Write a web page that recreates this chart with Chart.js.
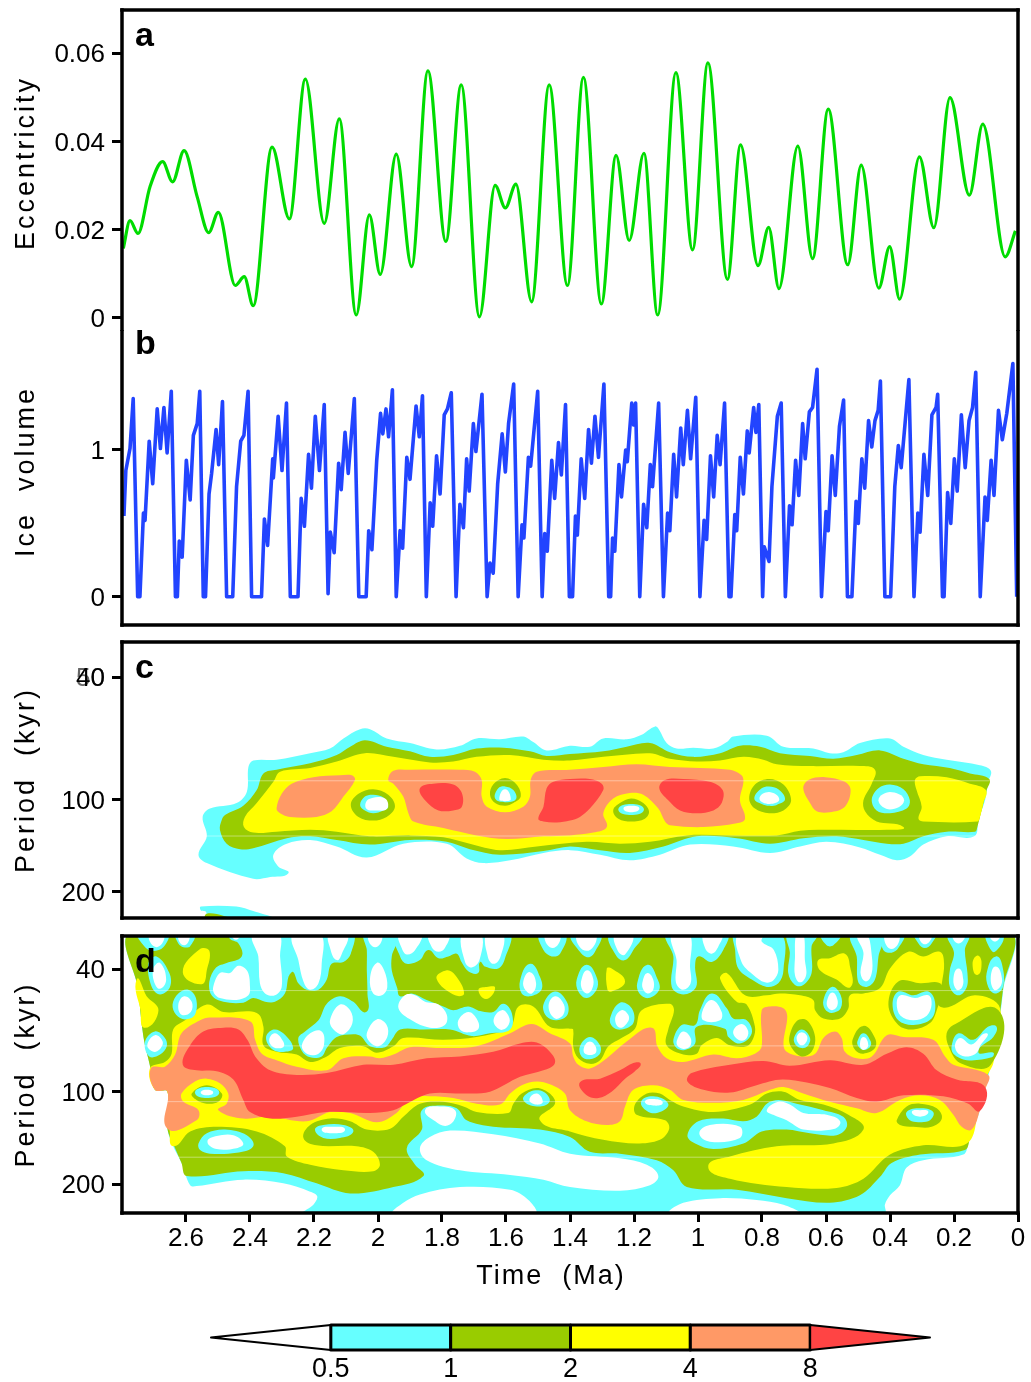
<!DOCTYPE html>
<html>
<head>
<meta charset="utf-8">
<title>Eccentricity and ice volume wavelet spectra</title>
<script src="https://cdn.jsdelivr.net/npm/chart.js@4/dist/chart.umd.min.js"></script>
<style>
  html, body { margin: 0; padding: 0; background: #fff; }
  body { position: relative; width: 1031px; height: 1382px; overflow: hidden; }
  canvas { position: absolute; left: 0; }
</style>
</head>
<body>
<canvas id="panelA" width="1031" height="331" style="top:0"></canvas>
<canvas id="panelB" width="1031" height="300" style="top:330px"></canvas>
<canvas id="panelC" width="1031" height="295" style="top:630px"></canvas>
<canvas id="panelD" width="1031" height="375" style="top:925px"></canvas>
<canvas id="colorBar" width="1031" height="72" style="top:1310px"></canvas>
<script>
// panel a: eccentricity, turning points (time in Ma)
const eccTime = [2.796,2.775,2.75,2.7125,2.673,2.642,2.606,2.565,2.529,2.499,2.446,2.418,2.39,2.331,2.277,2.227,2.168,2.121,2.068,2.027,1.993,1.943,1.895,1.844,1.788,1.74,1.683,1.634,1.602,1.569,1.52,1.465,1.408,1.358,1.302,1.256,1.215,1.169,1.126,1.069,1.017,0.969,0.908,0.867,0.8125,0.779,0.747,0.688,0.642,0.593,0.532,0.49,0.435,0.401,0.37,0.308,0.263,0.2125,0.152,0.11,0.04,0.008];
const eccValue = [0.0157,0.022,0.0191,0.0297,0.0354,0.0308,0.0379,0.0274,0.0193,0.0239,0.0073,0.0093,0.0027,0.0387,0.0224,0.0541,0.0214,0.0451,0.0006,0.0233,0.0098,0.0371,0.0116,0.056,0.0173,0.0528,0.0002,0.03,0.0249,0.0303,0.0036,0.0528,0.0073,0.0545,0.0031,0.0368,0.0175,0.0373,0.0006,0.0556,0.0154,0.0578,0.0087,0.0392,0.0118,0.0205,0.0066,0.0389,0.0134,0.0473,0.012,0.0346,0.0067,0.0161,0.0042,0.0365,0.0204,0.0499,0.0278,0.0439,0.0138,0.0197];

// panel b: ice volume
const iceTime = [2.794,2.788,2.775,2.765,2.756,2.751,2.744,2.733,2.728,2.715,2.704,2.69,2.68,2.669,2.659,2.646,2.633,2.627,2.621,2.612,2.599,2.587,2.577,2.565,2.557,2.546,2.539,2.528,2.52,2.506,2.498,2.486,2.473,2.454,2.442,2.429,2.419,2.406,2.395,2.364,2.355,2.345,2.329,2.327,2.312,2.3,2.286,2.274,2.25,2.24,2.23,2.217,2.208,2.196,2.183,2.168,2.156,2.149,2.137,2.123,2.115,2.103,2.093,2.074,2.06,2.037,2.029,2.019,2.004,1.992,1.985,1.975,1.967,1.955,1.943,1.931,1.923,1.91,1.9,1.881,1.871,1.861,1.849,1.837,1.829,1.817,1.806,1.793,1.783,1.771,1.756,1.744,1.733,1.723,1.715,1.702,1.694,1.675,1.659,1.65,1.64,1.626,1.612,1.602,1.592,1.576,1.562,1.55,1.544,1.53,1.523,1.501,1.487,1.479,1.471,1.457,1.448,1.436,1.427,1.414,1.402,1.392,1.383,1.377,1.365,1.354,1.342,1.333,1.322,1.311,1.294,1.279,1.273,1.267,1.26,1.247,1.239,1.226,1.221,1.207,1.201,1.195,1.182,1.17,1.16,1.149,1.142,1.123,1.108,1.095,1.088,1.076,1.067,1.054,1.046,1.033,1.023,1.007,0.994,0.981,0.973,0.961,0.951,0.94,0.931,0.917,0.903,0.897,0.885,0.879,0.868,0.858,0.846,0.84,0.826,0.819,0.81,0.798,0.793,0.778,0.769,0.752,0.74,0.727,0.714,0.706,0.695,0.685,0.673,0.665,0.652,0.642,0.628,0.614,0.6,0.593,0.581,0.571,0.558,0.545,0.533,0.519,0.506,0.499,0.488,0.479,0.467,0.457,0.447,0.437,0.43,0.416,0.398,0.385,0.374,0.365,0.353,0.341,0.325,0.313,0.306,0.294,0.282,0.269,0.256,0.251,0.236,0.231,0.22,0.21,0.199,0.19,0.177,0.165,0.153,0.142,0.132,0.118,0.103,0.096,0.084,0.075,0.061,0.049,0.035,0.016,0.004];
const iceValue = [0.55,0.86,1.01,1.35,0.48,0,0,0.57,0.52,1.06,0.77,1.28,1.01,1.29,0.98,1.4,0,0,0.38,0.27,0.93,0.66,1.1,1.18,1.4,0,0,0.7,0.84,1.14,0.9,1.33,0,0,0.75,1.06,1.1,1.4,0,0,0.53,0.35,0.94,0.81,1.23,0.86,1.32,0,0,0.67,0.48,0.97,0.74,1.23,0.86,1.31,0.02,0.44,0.3,0.91,0.73,1.12,0.84,1.35,0,0,0.45,0.32,0.93,1.25,1.11,1.28,1.09,1.41,0,0.45,0.33,0.95,0.8,1.3,1.09,1.37,0,0.64,0.48,0.96,0.7,1.24,1.28,1.39,0,0.63,0.47,0.94,0.72,1.18,0.99,1.38,0,0.23,0.16,0.77,1.11,0.85,1.18,1.45,0,0.49,0.4,0.95,0.89,1.4,0,0.43,0.31,0.93,0.67,1.05,0.83,1.31,0,0,0.55,0.42,0.94,0.67,1.14,0.91,1.23,0.95,1.45,0,0,0.4,0.31,0.9,0.68,1,0.92,1.32,1.17,1.32,0,0.63,0.47,0.9,0.75,1.32,0,0.57,0.45,0.97,0.68,1.15,0.9,1.27,0.94,1.36,0,0.52,0.39,0.96,0.68,1.1,0.9,1.32,0,0,0.56,0.45,0.95,0.7,1.13,0.98,1.29,1.12,1.31,0,0.34,0.24,0.75,1.23,1.32,0,0.62,0.49,0.93,0.69,1.18,0.94,1.26,1.29,1.55,0,0.58,0.45,0.96,0.69,1.16,1.34,0,0,0.65,0.5,0.94,0.74,1.2,1.02,1.2,1.27,1.47,0,0,0.75,1.03,0.88,1.18,1.48,0,0.57,0.44,0.97,0.69,1.24,1.29,1.38,0,0,0.71,0.5,0.94,0.72,1.24,0.88,1.2,1.29,1.53,0,0.68,0.52,0.93,0.69,1.27,1.07,1.25,1.59,0];

// contour shapes: [level, [time Ma, log2(period / 100 kyr), ...]], painted in order
// levels: 0 below 0.5, 1 = 0.5-1, 2 = 1-2, 3 = 2-4, 4 = 4-8, 5 = above 8
const cOuter = [
  [1,[2.548,.19,2.525,.10,2.442,.04,2.410,-.08,2.405,-.35,2.390,-.42,2.317,-.43,2.212,-.50,2.150,-.55,2.108,-.66,2.056,-.76,2.025,-.76,1.973,-.66,1.900,-.61,1.817,-.54,1.744,-.58,1.692,-.66,1.619,-.65,1.546,-.68,1.515,-.62,1.473,-.53,1.400,-.58,1.338,-.57,1.296,-.66,1.223,-.65,1.176,-.70,1.134,-.79,1.121,-.75,1.098,-.61,1.067,-.55,1.015,-.56,.952,-.55,.910,-.62,.890,-.68,.785,-.69,.733,-.57,.640,-.55,.588,-.50,.546,-.51,.494,-.61,.400,-.66,.358,-.57,.296,-.48,.223,-.43,.119,-.37,.085,-.31,.093,-.19,.103,.01,.124,.22,.137,.40,.223,.40,.296,.49,.338,.62,.379,.66,.431,.60,.494,.52,.598,.46,.681,.51,.775,.58,.890,.51,1.025,.49,1.119,.60,1.213,.66,1.306,.60,1.400,.55,1.483,.58,1.587,.66,1.671,.69,1.723,.64,1.785,.48,1.921,.48,2.035,.63,2.129,.51,2.212,.44,2.285,.48,2.327,.60,2.311,.73,2.280,.80,2.337,.84,2.390,.86,2.535,.69,2.561,.60,2.535,.40]],
  [1,[2.554,1.16,2.554,1.20,2.537,1.22,2.537,1.30,2.327,1.30,2.390,1.21,2.442,1.16]],
  [2,[2.537,1.24,2.537,1.31,2.452,1.31,2.484,1.26]],
  [2,[2.488,.22,2.478,.17,2.421,.07,2.379,-.10,2.358,-.28,2.317,-.32,2.212,-.39,2.129,-.48,2.087,-.57,2.041,-.64,1.973,-.57,1.900,-.52,1.838,-.46,1.765,-.48,1.692,-.55,1.608,-.56,1.525,-.52,1.473,-.47,1.400,-.49,1.296,-.52,1.223,-.57,1.150,-.61,1.088,-.51,1.015,-.46,.931,-.50,.869,-.58,.806,-.57,.744,-.50,.650,-.47,.577,-.44,.504,-.48,.431,-.53,.358,-.44,.296,-.38,.213,-.34,.150,-.28,.090,-.22,.098,-.10,.114,.12,.127,.30,.134,.35,.223,.35,.296,.40,.358,.48,.410,.48,.483,.44,.567,.40,.671,.42,.775,.48,.879,.42,1.004,.40,1.108,.51,1.213,.58,1.306,.55,1.400,.51,1.483,.56,1.619,.60,1.713,.54,1.785,.46,1.900,.44,2.025,.49,2.129,.44,2.212,.40,2.285,.42,2.390,.53,2.431,.54,2.473,.48,2.494,.33]],
  [3,[2.419,.30,2.416,.19,2.379,.04,2.327,-.19,2.306,-.30,2.212,-.34,2.129,-.41,2.041,-.50,1.952,-.46,1.838,-.40,1.765,-.41,1.692,-.46,1.588,-.48,1.483,-.43,1.400,-.42,1.296,-.46,1.150,-.50,1.088,-.44,1.004,-.41,.931,-.42,.858,-.46,.796,-.43,.754,-.38,.650,-.36,.494,-.36,.447,-.32,.457,-.17,.483,.01,.478,.13,.442,.24,.358,.30,.410,.33,.567,.33,.681,.34,.754,.39,.900,.39,1.035,.39,1.150,.46,1.244,.48,1.348,.46,1.504,.51,1.619,.55,1.713,.48,1.796,.41,1.900,.39,2.025,.40,2.129,.35,2.212,.33,2.317,.35,2.390,.36]],
  [3,[.322,-.21,.306,-.25,.223,-.24,.150,-.17,.100,-.10,.108,.04,.119,.19,.127,.24,.296,.24,.311,.21,.301,.08,.317,-.10]]
];
const cInner = [
  [4,[2.317,.10,2.301,-.06,2.270,-.17,2.202,-.24,2.119,-.26,2.082,-.26,2.072,-.21,2.108,-.03,2.145,.13,2.192,.19,2.275,.19,2.306,.15]],
  [4,[1.968,-.21,1.952,-.31,1.900,-.32,1.744,-.32,1.697,-.30,1.676,-.21,1.676,-.03,1.660,.08,1.603,.14,1.546,.08,1.525,-.03,1.523,-.21,1.504,-.30,1.400,-.32,1.296,-.35,1.192,-.38,1.088,-.35,.900,-.32,.864,-.26,.858,-.19,.869,.01,.853,.21,.879,.26,.983,.30,1.088,.28,1.103,.24,1.124,.10,1.171,-.05,1.213,-.07,1.265,-.01,1.296,.15,1.285,.30,1.327,.36,1.400,.39,1.483,.40,1.598,.43,1.692,.39,1.796,.31,1.889,.24,1.905,.15,1.921,-.03,1.952,-.17]],
  [4,[.671,-.12,.655,-.21,.603,-.24,.541,-.19,.523,-.10,.541,.08,.588,.14,.629,.13,.650,.04]],
  [5,[1.869,-.12,1.827,-.17,1.765,-.16,1.738,-.07,1.738,.08,1.765,.12,1.811,.12,1.853,.01]],
  [5,[1.499,.21,1.483,.08,1.473,-.12,1.452,-.19,1.400,-.22,1.338,-.22,1.301,-.17,1.296,-.10,1.338,.10,1.369,.19,1.400,.23,1.441,.25,1.483,.24]],
  [5,[1.121,-.12,1.103,-.21,1.046,-.22,.963,-.19,.923,-.10,.926,.04,.952,.12,1.004,.15,1.056,.12,1.093,.01]],
  [2,[2.085,.06,2.061,-.06,2.015,-.11,1.968,-.05,1.947,.08,1.973,.19,2.015,.23,2.061,.19]],
  [1,[2.056,.06,2.041,-.03,2.015,-.05,1.983,-.02,1.968,.08,1.983,.12,2.015,.15,2.041,.12]],
  [0,[2.037,.10,2.030,0,1.978,-.01,1.971,.10,2.004,.12]],
  [2,[1.650,-.05,1.640,-.16,1.603,-.23,1.567,-.16,1.554,-.03,1.577,.04,1.603,.07,1.634,.04]],
  [1,[1.634,-.01,1.624,-.12,1.603,-.14,1.577,-.10,1.569,0,1.603,.03]],
  [0,[1.621,0,1.603,-.11,1.585,0,1.603,.02]],
  [2,[1.265,.12,1.244,.04,1.209,-.01,1.171,.04,1.153,.13,1.166,.21,1.209,.24,1.249,.21]],
  [1,[1.249,.11,1.209,.05,1.169,.11,1.209,.17]],
  [0,[1.233,.10,1.209,.07,1.183,.10,1.209,.14]],
  [2,[.840,-.01,.822,-.16,.778,-.22,.733,-.16,.709,.01,.733,.12,.778,.15,.822,.10]],
  [1,[.824,-.01,.801,-.12,.778,-.14,.749,-.11,.728,0,.754,.06,.778,.07,.801,.05]],
  [0,[.808,-.01,.778,-.08,.746,0,.778,.05]],
  [1,[.457,0,.436,-.12,.400,-.16,.358,-.11,.338,.01,.348,.10,.400,.15,.442,.12]],
  [0,[.436,.01,.400,-.08,.356,.01,.400,.11]]
];

const dBase = [
  [1,[2.767,-1.71,2.749,-1.10,2.733,-.59,2.712,-.27,2.697,-.02,2.658,0,2.658,.40,2.640,.59,2.614,.77,2.587,1.01,2.567,1.02,2.421,.95,2.296,.99,2.212,1.08,2.190,1.13,2.202,1.22,2.233,1.31,.416,1.31,.416,1.22,.400,1.12,.369,1.01,.348,.82,.296,.74,.171,.68,.155,.56,.140,.40,.119,.20,.098,-.09,.077,-.41,.061,-.70,.046,-1.10,.030,-1.71]],
  [0,[1.952,1.31,1.921,1.20,1.869,1.11,1.744,1.03,1.587,1.06,1.530,1.17,1.509,1.31]],
  [0,[1.088,1.31,1.046,1.20,.931,1.15,.817,1.17,.733,1.22,.686,1.31]],
  [0,[1.869,.61,1.838,.49,1.775,.42,1.640,.46,1.494,.56,1.400,.67,1.244,.72,1.160,.79,1.124,.91,1.150,1.01,1.244,1.07,1.400,1.03,1.483,.95,1.587,.90,1.744,.85,1.848,.74]],
  [2,[2.767,-1.71,2.749,-1.10,2.733,-.59,2.712,-.27,2.697,-.02,2.658,0,2.658,.40,2.634,.61,2.614,.77,2.598,.91,2.421,.86,2.296,.88,2.192,.99,2.087,1.10,1.952,1.03,1.858,.91,1.884,.79,1.910,.61,1.863,.41,1.863,.20,1.806,.15,1.754,.18,1.723,.31,1.640,.38,1.494,.41,1.400,.49,1.338,.65,1.244,.67,1.129,.74,1.077,.85,1.035,1.03,.879,1.06,.723,1.15,.588,1.20,.494,1.12,.431,.92,.395,.77,.306,.68,.166,.63,.150,.49,.124,.20,.098,-.13,.077,-.45,.061,-.74,.046,-1.13,.030,-1.71]],
  [0,[1.853,.20,1.806,.16,1.759,.20,1.764,.32,1.790,.37,1.821,.32]]
];
const dYellow = [
  [3,[2.713,-.25,2.666,-.32,2.645,-.41,2.640,-.67,2.603,-.77,2.535,-.94,2.483,-.86,2.379,-.85,2.358,-.70,2.358,-.50,2.317,-.43,2.254,-.40,2.212,-.32,2.160,-.38,2.119,-.47,2.046,-.49,2.004,-.42,1.952,-.49,1.921,-.58,1.796,-.56,1.692,-.59,1.587,-.70,1.561,-.92,1.515,-.92,1.463,-.70,1.400,-.68,1.390,-.67,1.390,-.49,1.374,-.36,1.338,-.30,1.306,-.34,1.280,-.49,1.239,-.58,1.197,-.68,1.176,-.88,1.088,-.95,1.075,-.88,1.093,-.67,1.098,-.50,1.046,-.40,1.004,-.41,.989,-.50,.942,-.58,.900,-.50,.848,-.49,.827,-.58,.822,-.70,.848,-.94,.879,-.97,.931,-1.22,.910,-1.28,.853,-1.04,.785,-1.04,.744,-1.06,.681,-1.04,.640,-.99,.634,-.88,.608,-.79,.556,-.79,.530,-.90,.525,-1.04,.483,-1.06,.431,-1.12,.400,-1.33,.343,-1.51,.296,-1.46,.244,-1.51,.231,-1.38,.238,-1.17,.249,-.94,.218,-.91,.134,-1.04,.056,-.90,.077,-.31,.098,-.16,.124,.20,.160,.56,.296,.58,.400,.68,.483,.94,.567,1.04,.723,1.03,.900,.94,.968,.81,.900,.70,.754,.59,.577,.56,.483,.41,.530,.25,.608,.14,.681,.09,.733,0,.785,.02,.837,.14,.952,.22,1.046,.16,1.088,.09,1.119,.02,1.160,.02,1.197,.14,1.192,.25,1.103,.31,1.090,.40,1.119,.52,1.192,.56,1.296,.52,1.400,.43,1.494,.31,1.447,.13,1.463,.02,1.504,-.04,1.551,.02,1.577,.13,1.593,.23,1.692,.22,1.733,.16,1.796,.11,1.869,.13,1.921,.27,1.962,.40,2.035,.41,2.087,.32,2.150,.29,2.212,.36,2.233,.50,2.192,.58,2.067,.59,2.015,.65,1.994,.79,2.015,.86,2.108,.85,2.212,.79,2.285,.70,2.291,.59,2.379,.43,2.504,.38,2.587,.43,2.640,.59,2.652,.41,2.658,.40,2.658,0,2.697,-.02]],
  [3,[2.610,-1.29,2.556,-1.54,2.527,-1.52,2.535,-1.31,2.551,-1.16]],
  [3,[2.754,-1.21,2.723,-1.03,2.686,-.88,2.728,-.69,2.742,-.88]],
  [3,[1.817,-1.22,1.785,-1.31,1.759,-1.26,1.731,-1.06,1.759,-1.04]],
  [3,[1.686,-1.10,1.660,-1.13,1.634,-1.12,1.662,-1.00]],
  [3,[1.285,-1.33,1.270,-1.33,1.228,-1.19,1.270,-1.08,1.283,-1.10]],
  [3,[.142,-1.38,.127,-1.47,.114,-1.40,.127,-1.26]],
  [3,[.624,-1.42,.588,-1.44,.541,-1.49,.525,-1.35,.523,-1.13,.567,-1.21,.619,-1.31]],
  [2,[.405,-.94,.374,-1.19,.306,-1.17,.238,-1.15,.254,-.88,.275,-.74,.327,-.67,.374,-.72]],
  [2,[.223,-.63,.202,-.72,.061,-.88,.085,-.29,.181,-.31,.217,-.49]]
];
const dTopHoles = [
  [1,[2.463,-1.71,2.082,-1.71,2.085,-1.49,2.108,-1.40,2.145,-1.38,2.160,-1.21,2.186,-1.10,2.223,-1.10,2.249,-1.17,2.270,-1.29,2.291,-1.06,2.322,-.97,2.353,-.97,2.390,-1.01,2.421,-.96,2.483,-.97,2.520,-1.04,2.527,-1.19,2.506,-1.34,2.473,-1.39,2.426,-1.46,2.436,-1.60,2.463,-1.65]],
  [0,[2.390,-1.71,2.311,-1.71,2.306,-1.46,2.301,-1.13,2.322,-1.04,2.353,-1.06,2.369,-1.17,2.374,-1.46]],
  [0,[2.265,-1.71,2.181,-1.71,2.176,-1.38,2.186,-1.17,2.212,-1.10,2.233,-1.19,2.249,-1.42]],
  [0,[2.152,-1.71,2.096,-1.71,2.113,-1.49,2.129,-1.42,2.148,-1.53]],
  [0,[2.515,-1.13,2.494,-1.28,2.463,-1.28,2.436,-1.36,2.408,-1.30,2.400,-1.13,2.405,-1.04,2.442,-.99,2.494,-1.01,2.512,-1.06]],
  [0,[2.457,-1.70,2.431,-1.70,2.444,-1.64]],
  [1,[2.749,-1.71,2.658,-1.71,2.671,-1.56,2.707,-1.52,2.733,-1.58]],
  [0,[2.715,-1.71,2.669,-1.71,2.692,-1.56]],
  [1,[2.718,-1.38,2.692,-1.46,2.652,-1.28,2.650,-1.13,2.681,-1.05,2.707,-1.13]],
  [0,[2.702,-1.33,2.681,-1.39,2.662,-1.21,2.681,-1.11,2.700,-1.19]],
  [1,[2.631,-1.71,2.575,-1.71,2.587,-1.57,2.608,-1.56,2.624,-1.60]],
  [0,[2.624,-1.71,2.590,-1.71,2.606,-1.58]],
  [1,[2.642,-.94,2.624,-1.06,2.593,-1.10,2.569,-1.01,2.572,-.83,2.603,-.78,2.631,-.83]],
  [0,[2.624,-.94,2.606,-1.03,2.582,-.97,2.585,-.86,2.614,-.83]],
  [1,[2.728,-.54,2.697,-.65,2.666,-.58,2.660,-.49,2.681,-.40,2.715,-.38]],
  [0,[2.721,-.50,2.697,-.61,2.673,-.54,2.681,-.46,2.702,-.43]],
  [1,[2.041,-1.71,1.942,-1.71,1.957,-1.46,1.957,-1.31,1.940,-1.12,1.931,-1.03,1.895,-1.06,1.848,-.99,1.796,-.92,1.765,-.88,1.718,-.92,1.681,-.87,1.640,-.86,1.608,-.95,1.582,-.85,1.587,-.67,1.650,-.63,1.707,-.60,1.775,-.67,1.858,-.67,1.931,-.67,1.957,-.56,1.978,-.48,2.025,-.49,2.054,-.60,2.077,-.62,2.129,-.59,2.160,-.47,2.176,-.38,2.212,-.37,2.238,-.44,2.249,-.58,2.228,-.65,2.186,-.77,2.160,-.95,2.119,-1.03,2.077,-.97,2.037,-.86,2.033,-1.06,2.035,-1.31,2.035,-1.53]],
  [0,[2.025,-1.22,2.004,-1.39,1.981,-1.31,1.971,-1.13,1.988,-1.04,2.015,-1.06]],
  [0,[2.030,-1.71,1.988,-1.71,2.009,-1.56]],
  [0,[2.150,-.77,2.119,-.94,2.087,-.88,2.080,-.74,2.108,-.62,2.139,-.67]],
  [0,[2.238,-.49,2.212,-.63,2.176,-.65,2.169,-.50,2.186,-.41,2.217,-.40]],
  [0,[2.035,-.63,2.004,-.78,1.973,-.72,1.971,-.59,1.999,-.49,2.027,-.54]],
  [0,[1.936,-.90,1.916,-1.04,1.884,-1.04,1.853,-.97,1.811,-.94,1.785,-.83,1.791,-.72,1.838,-.69,1.895,-.77]],
  [0,[1.749,-.77,1.718,-.86,1.692,-.79,1.686,-.68,1.718,-.64,1.744,-.67]],
  [0,[1.639,-.77,1.613,-.88,1.589,-.79,1.596,-.70,1.619,-.67]],
  [1,[2.350,-.58,2.327,-.67,2.296,-.63,2.265,-.47,2.291,-.43,2.327,-.45]],
  [0,[2.340,-.56,2.322,-.63,2.296,-.54,2.296,-.48,2.327,-.48]],
  [1,[1.944,-1.71,1.593,-1.71,1.603,-1.44,1.624,-1.33,1.666,-1.35,1.681,-1.40,1.687,-1.28,1.718,-1.30,1.739,-1.40,1.754,-1.49,1.780,-1.46,1.811,-1.44,1.843,-1.53,1.869,-1.42,1.910,-1.38,1.931,-1.46]],
  [0,[1.933,-1.71,1.866,-1.71,1.884,-1.53,1.910,-1.48,1.926,-1.55]],
  [0,[1.840,-1.71,1.780,-1.71,1.791,-1.55,1.811,-1.51,1.832,-1.56]],
  [0,[1.736,-1.71,1.679,-1.71,1.683,-1.42,1.707,-1.34,1.728,-1.40]],
  [0,[1.660,-1.71,1.610,-1.71,1.617,-1.46,1.639,-1.38,1.657,-1.46]],
  [1,[1.556,-1.20,1.525,-1.38,1.494,-1.24,1.489,-1.10,1.525,-1.03,1.551,-1.06]],
  [0,[1.546,-1.19,1.525,-1.29,1.506,-1.17,1.519,-1.06,1.540,-1.10]],
  [1,[1.483,-.94,1.447,-1.08,1.410,-.97,1.408,-.83,1.441,-.77,1.473,-.81]],
  [0,[1.467,-.92,1.447,-1.03,1.419,-.94,1.421,-.83,1.447,-.79]],
  [1,[1.494,-1.71,1.416,-1.71,1.431,-1.49,1.457,-1.46,1.483,-1.53]],
  [0,[1.478,-1.71,1.431,-1.71,1.454,-1.55]],
  [1,[1.395,-1.71,1.306,-1.71,1.322,-1.51,1.343,-1.45,1.369,-1.51]],
  [0,[1.379,-1.71,1.319,-1.71,1.348,-1.52]],
  [1,[1.379,-1.21,1.348,-1.37,1.315,-1.22,1.317,-1.10,1.348,-1.01,1.374,-1.08]],
  [0,[1.364,-1.21,1.346,-1.31,1.327,-1.21,1.332,-1.10,1.348,-1.06,1.364,-1.12]],
  [1,[1.275,-1.71,1.176,-1.71,1.202,-1.53,1.228,-1.42,1.254,-1.46]],
  [0,[1.259,-1.71,1.204,-1.71,1.228,-1.48,1.249,-1.51]],
  [1,[1.190,-1.17,1.158,-1.37,1.127,-1.22,1.121,-1.10,1.155,-1.01,1.183,-1.06]],
  [0,[1.173,-1.19,1.158,-1.28,1.140,-1.21,1.140,-1.10,1.158,-1.06,1.173,-1.12]],
  [1,[1.275,-.79,1.244,-.96,1.207,-.90,1.202,-.74,1.239,-.67,1.267,-.70]],
  [0,[1.259,-.79,1.239,-.88,1.218,-.83,1.218,-.76,1.244,-.69]],
  [1,[1.369,-.49,1.338,-.59,1.306,-.50,1.308,-.40,1.338,-.35,1.364,-.38]],
  [0,[1.356,-.48,1.338,-.54,1.319,-.48,1.322,-.41,1.353,-.41]],
  [1,[1.096,-1.71,.910,-1.71,.921,-1.53,.957,-1.40,.999,-1.46,1.009,-1.35,1.006,-1.13,1.046,-1.05,1.082,-1.13,1.077,-1.46]],
  [0,[1.082,-1.71,1.027,-1.71,1.025,-1.35,1.023,-1.17,1.048,-1.10,1.069,-1.18,1.067,-1.42]],
  [0,[.981,-1.71,.926,-1.71,.936,-1.57,.957,-1.49,.978,-1.55]],
  [1,[.884,-1.71,.744,-1.71,.733,-1.31,.749,-1.17,.785,-1.13,.832,-1.21,.874,-1.33,.884,-1.53]],
  [0,[.874,-1.71,.796,-1.71,.801,-1.62,.763,-1.53,.749,-1.31,.765,-1.20,.791,-1.18,.827,-1.26,.864,-1.40]],
  [1,[.718,-1.71,.629,-1.71,.645,-1.57,.645,-1.28,.671,-1.15,.697,-1.15,.718,-1.28,.713,-1.50]],
  [0,[.692,-1.71,.671,-1.71,.666,-1.42,.662,-1.26,.681,-1.18,.697,-1.26,.697,-1.44]],
  [1,[.614,-1.71,.556,-1.71,.577,-1.58,.598,-1.58]],
  [1,[.520,-1.71,.426,-1.71,.436,-1.46,.447,-1.21,.473,-1.13,.499,-1.18,.504,-1.46]],
  [0,[.504,-1.71,.473,-1.71,.457,-1.47,.457,-1.28,.475,-1.19,.492,-1.28,.483,-1.50]],
  [1,[.426,-1.71,.358,-1.71,.374,-1.55,.395,-1.50,.421,-1.53]],
  [0,[.416,-1.71,.371,-1.71,.395,-1.54]],
  [1,[.322,-1.71,.259,-1.71,.270,-1.60,.291,-1.55,.311,-1.60]],
  [0,[.308,-1.71,.270,-1.71,.291,-1.59]],
  [1,[.218,-1.71,.155,-1.71,.166,-1.53,.158,-1.28,.160,-1.13,.186,-1.04,.213,-1.13,.213,-1.31,.200,-1.50]],
  [0,[.204,-1.71,.166,-1.71,.186,-1.60]],
  [0,[.202,-1.21,.186,-1.33,.171,-1.21,.176,-1.12,.192,-1.10]],
  [1,[.098,-1.71,.046,-1.71,.072,-1.51,.093,-1.58]],
  [0,[.088,-1.71,.056,-1.71,.072,-1.62]],
  [1,[.098,-1.28,.069,-1.46,.046,-1.31,.048,-1.12,.072,-1.06,.093,-1.13]],
  [0,[.085,-1.24,.069,-1.35,.050,-1.22,.056,-1.13,.075,-1.10]],
  [1,[1.077,-.56,1.051,-.72,1.009,-.72,.994,-.88,.957,-1.06,.910,-.90,.890,-.79,.848,-.77,.832,-.63,.869,-.52,.905,-.59,.916,-.68,1.004,-.70,1.009,-.52,1.041,-.45,1.067,-.47]],
  [0,[1.065,-.56,1.046,-.65,1.023,-.58,1.025,-.49,1.046,-.46,1.065,-.50]],
  [0,[.985,-.88,.957,-.99,.926,-.86,.931,-.77,.983,-.77]],
  [0,[.890,-.65,.864,-.73,.843,-.65,.853,-.56,.874,-.56]],
  [1,[.608,-.99,.582,-1.13,.554,-1.04,.554,-.90,.582,-.85,.603,-.89]],
  [0,[.596,-.99,.580,-1.07,.564,-.99,.567,-.91,.582,-.88,.596,-.92]],
  [1,[.392,-.94,.374,-1.08,.327,-1.04,.280,-1.08,.259,-.96,.270,-.79,.327,-.72,.374,-.77]],
  [0,[.379,-.95,.367,-1.04,.322,-1.01,.280,-1.04,.270,-.94,.285,-.82,.327,-.77,.367,-.82]],
  [1,[.207,-.50,.186,-.63,.140,-.56,.094,-.70,.067,-.70,.077,-.59,.124,-.43,.077,-.42,.082,-.37,.160,-.34,.202,-.41]],
  [0,[.197,-.50,.181,-.58,.145,-.51,.098,-.63,.119,-.49,.129,-.42,.155,-.38,.186,-.41]]
];
const dBand = [
  [4,[2.710,-.25,2.666,-.27,2.634,-.40,2.614,-.63,2.556,-.77,2.525,-.80,2.400,-.76,2.384,-.56,2.363,-.41,2.317,-.34,2.254,-.27,2.160,-.23,2.108,-.36,2.025,-.38,1.994,-.36,1.952,-.40,1.900,-.48,1.796,-.47,1.692,-.49,1.587,-.63,1.520,-.73,1.463,-.63,1.400,-.52,1.390,-.38,1.374,-.29,1.338,-.25,1.285,-.36,1.223,-.54,1.145,-.69,1.127,-.49,1.098,-.36,1.046,-.32,.952,-.40,.879,-.36,.822,-.41,.801,-.49,.801,-.88,.775,-.92,.733,-.90,.721,-.81,.733,-.52,.723,-.43,.676,-.38,.634,-.41,.608,-.58,.572,-.65,.551,-.58,.541,-.43,.504,-.36,.457,-.38,.410,-.61,.358,-.59,.265,-.56,.228,-.38,.202,-.29,.093,-.18,.103,-.02,.119,.20,.145,.41,.176,.38,.202,.25,.244,.09,.306,.04,.369,.09,.442,.23,.504,.18,.588,.11,.671,.02,.733,-.05,.775,-.02,.858,.09,.952,.12,1.046,.09,1.088,-.02,1.140,-.07,1.202,-.02,1.228,.16,1.244,.32,1.285,.36,1.348,.32,1.400,.20,1.416,.02,1.463,-.08,1.504,-.11,1.551,-.07,1.587,.02,1.619,.14,1.692,.13,1.765,.07,1.838,.05,1.900,.07,1.942,.23,2.004,.33,2.087,.23,2.150,.22,2.223,.32,2.337,.27,2.421,.29,2.499,.20,2.473,.13,2.468,.02,2.494,-.09,2.535,-.14,2.572,-.11,2.614,.02,2.608,.11,2.561,.20,2.567,.31,2.658,.40,2.658,0,2.697,-.02]],
  [5,[2.610,-.29,2.587,-.50,2.546,-.65,2.483,-.69,2.436,-.67,2.405,-.54,2.384,-.38,2.337,-.23,2.254,-.18,2.160,-.20,2.046,-.29,1.952,-.29,1.848,-.36,1.744,-.38,1.640,-.43,1.556,-.52,1.504,-.53,1.463,-.43,1.447,-.31,1.483,-.23,1.556,-.16,1.650,0,1.733,.02,1.838,.02,1.910,.13,1.952,.20,2.025,.23,2.160,.22,2.254,.27,2.337,.29,2.400,.22,2.421,.09,2.452,-.13,2.504,-.22,2.567,-.23]],
  [5,[1.369,-.10,1.306,-.14,1.244,-.23,1.202,-.31,1.179,-.30,1.197,-.22,1.228,-.14,1.270,0,1.311,.07,1.348,.04]],
  [5,[1.033,-.11,1.020,-.20,.900,-.29,.796,-.33,.713,-.28,.588,-.34,.483,-.29,.410,-.41,.348,-.48,.296,-.41,.254,-.23,.192,-.13,.103,-.05,.119,.21,.155,.13,.233,.05,.358,.04,.442,.11,.504,.07,.588,-.04,.733,-.13,.817,-.07,.900,.01,.983,-.02]]
];
const dRings = [
  [2,[.715,-.58,.692,-.76,.660,-.77,.634,-.59,.645,-.43,.676,-.38,.707,-.47]],
  [1,[.700,-.58,.676,-.67,.650,-.58,.658,-.49,.676,-.47,.694,-.50]],
  [0,[.692,-.58,.676,-.64,.658,-.58,.676,-.50]],
  [2,[.517,-.56,.483,-.71,.447,-.58,.447,-.47,.483,-.41,.509,-.45]],
  [1,[.502,-.54,.483,-.63,.460,-.54,.463,-.48,.483,-.45,.499,-.49]],
  [0,[.494,-.50,.483,-.59,.468,-.50,.483,-.45]],
  [2,[2.582,.02,2.535,-.07,2.488,.02,2.499,.11,2.535,.13,2.567,.09]],
  [1,[2.572,.01,2.535,-.05,2.496,.01,2.535,.07]],
  [0,[2.554,.01,2.535,-.02,2.515,.01,2.535,.04]],
  [1,[2.561,.56,2.535,.45,2.478,.41,2.410,.47,2.390,.59,2.442,.66,2.525,.67,2.556,.63]],
  [0,[2.533,.54,2.504,.48,2.452,.47,2.421,.56,2.442,.61,2.504,.62]],
  [1,[2.197,.41,2.171,.36,2.108,.36,2.077,.43,2.119,.50,2.171,.50]],
  [0,[2.176,.41,2.140,.38,2.103,.41,2.140,.45]],
  [1,[1.546,.09,1.525,0,1.483,0,1.464,.11,1.504,.16]],
  [0,[1.527,.09,1.504,.02,1.485,.11,1.504,.14]],
  [1,[1.178,.11,1.140,.05,1.093,.13,1.119,.22,1.155,.22]],
  [0,[1.166,.11,1.140,.08,1.110,.12,1.140,.15]],
  [1,[1.033,.47,.999,.32,.921,.29,.858,.32,.817,.27,.785,.13,.749,.09,.692,.13,.608,.20,.546,.27,.535,.38,.567,.47,.650,.45,.723,.41,.801,.43,.858,.56,.952,.62,1.009,.56]],
  [0,[.996,.45,.963,.36,.869,.38,.869,.50,.963,.54]],
  [0,[.785,.20,.749,.11,.713,.14,.671,.23,.598,.25,.556,.32,.572,.40,.671,.41,.723,.31,.765,.25]],
  [2,[.379,.31,.348,.16,.306,.13,.254,.18,.238,.29,.270,.38,.327,.38,.369,.36]],
  [1,[.348,.22,.306,.18,.265,.22,.275,.31,.306,.33,.338,.31]],
  [0,[.332,.22,.306,.20,.280,.22,.306,.27]]
];

// pale seams of the gridded contour plot (log2 period)
const cSeams = [-0.201, 0.397];
const dSeams = [-1.091, -0.494, 0.108, 0.708];

const timeTicks = [2.6, 2.4, 2.2, 2, 1.8, 1.6, 1.4, 1.2, 1, 0.8, 0.6, 0.4, 0.2, 0];
const eccTicks = [0, 0.02, 0.04, 0.06];
const iceTicks = [0, 1];
const cPeriodTicks = [40, 40, 100, 200];
const cPeriodLabels = ["50", "40", "100", "200"];
const dPeriodTicks = [40, 100, 200];
const barEdges = [0.25, 0.5, 1, 2, 4, 8, 16];
const barTicks = [0.5, 1, 2, 4, 8];

const levelColors = ["#ffffff", "#66ffff", "#99cc00", "#ffff00", "#ff9966", "#ff4444"];
const FONT = "'Liberation Sans'";
Chart.defaults.font.family = FONT;
Chart.defaults.color = "#000";
Chart.defaults.animation = false;

function toPoints(xs, ys) {
    return xs.map((x, i) => ({ x: x, y: ys[i] }));
}

function shapePoints(flat) {
    const pts = [];
    for (let i = 0; i < flat.length; i += 2) {
        pts.push({ x: flat[i], y: 100 * Math.pow(2, flat[i + 1]) });
    }
    return pts;
}

function shapeDatasets(shapes) {
    return shapes.map(s => ({
        shape: true,
        data: shapePoints(s[1]),
        backgroundColor: levelColors[s[0]],
        pointRadius: 0,
        showLine: false
    }));
}

function seamDatasets(seams) {
    return seams.map(o => ({
        data: [{ x: 2.8, y: 100 * Math.pow(2, o) }, { x: 0, y: 100 * Math.pow(2, o) }],
        borderColor: "rgba(255,255,255,0.4)",
        borderWidth: 1,
        pointRadius: 0,
        showLine: true
    }));
}

// unit direction from a to b
function direction(a, b) {
    const dx = b.x - a.x, dy = b.y - a.y;
    const len = Math.hypot(dx, dy) || 1;
    return { x: dx / len, y: dy / len };
}

// fills each shape dataset as a closed smooth outline through its scaled points;
// handles follow the segment length so long straight edges do not overshoot
const shapeFill = {
    id: "shapeFill",
    beforeDatasetsDraw(chart) {
        const ctx = chart.ctx;
        const area = chart.chartArea;
        ctx.save();
        ctx.beginPath();
        ctx.rect(area.left, area.top, area.right - area.left, area.bottom - area.top);
        ctx.clip();
        chart.data.datasets.forEach((ds, i) => {
            if (!ds.shape) return;
            const pts = chart.getDatasetMeta(i).data;
            const n = pts.length;
            ctx.beginPath();
            ctx.moveTo(pts[0].x, pts[0].y);
            for (let k = 0; k < n; k++) {
                const p0 = pts[(k + n - 1) % n], p1 = pts[k], p2 = pts[(k + 1) % n], p3 = pts[(k + 2) % n];
                const h = Math.hypot(p2.x - p1.x, p2.y - p1.y) * 0.33;
                const t1 = direction(p0, p2), t2 = direction(p1, p3);
                ctx.bezierCurveTo(p1.x + t1.x * h, p1.y + t1.y * h, p2.x - t2.x * h, p2.y - t2.y * h, p2.x, p2.y);
            }
            ctx.closePath();
            ctx.fillStyle = ds.backgroundColor;
            ctx.fill();
        });
        ctx.restore();
    }
};

const frame = {
    id: "frame",
    afterDraw(chart, args, opts) {
        const ctx = chart.ctx;
        const a = chart.chartArea;
        ctx.save();
        ctx.strokeStyle = "#000";
        ctx.lineWidth = 3.5;
        ctx.lineCap = "square";
        const line = (x1, y1, x2, y2) => {
            ctx.beginPath();
            ctx.moveTo(x1, y1);
            ctx.lineTo(x2, y2);
            ctx.stroke();
        };
        line(a.left, a.top, a.left, a.bottom);
        line(a.right, a.top, a.right, a.bottom);
        if (opts.top !== false) line(a.left, a.top, a.right, a.top);
        if (opts.bottom !== false) line(a.left, a.bottom, a.right, a.bottom);
        if (opts.letter) {
            ctx.fillStyle = "#000";
            ctx.font = "bold 34px " + FONT;
            ctx.textBaseline = "alphabetic";
            ctx.fillText(opts.letter, a.left + 13, a.top + opts.letterY);
        }
        ctx.restore();
    }
};

// label half-heights must not push the plot area away from the set padding
function noLabelPadding(s) {
    s.paddingTop = 0;
    s.paddingBottom = 0;
    s.paddingLeft = 0;
    s.paddingRight = 0;
}

// spaces out the axis title the way the original lettering is spaced
function spacedTitle(spacing, dx, dy) {
    return function (scale) {
        if (scale.spacedDone) return;
        scale.spacedDone = true;
        const draw = scale.drawTitle;
        scale.drawTitle = function () {
            const ctx = this.ctx;
            ctx.save();
            ctx.letterSpacing = spacing;
            ctx.translate(dx, dy);
            draw.call(this);
            ctx.restore();
        };
    };
}

function timeAxis(show) {
    return {
        type: "linear",
        display: show,
        reverse: true,
        min: 0,
        max: 2.8,
        afterBuildTicks: s => { s.ticks = timeTicks.map(v => ({ value: v })); },
        afterFit: s => { noLabelPadding(s); if (show) s.height = 87; },
        beforeFit: spacedTitle("2px", -19, 0),
        grid: { drawOnChartArea: false, tickLength: 9, tickWidth: 3, tickColor: "#000" },
        border: { display: false },
        ticks: { font: { size: 26 }, padding: 1, maxRotation: 0, autoSkip: false, callback: v => String(v) },
        title: { display: show, text: "Time  (Ma)", font: { size: 27 }, padding: { top: 0, bottom: 7 } }
    };
}

function valueAxis(extra, title, titleShift) {
    return Object.assign({
        position: "left",
        afterFit: s => { noLabelPadding(s); s.width = 122; },
        beforeFit: spacedTitle("3px", 0, titleShift),
        grid: { drawOnChartArea: false, tickLength: 10, tickWidth: 3, tickColor: "#000" },
        border: { display: false },
        title: { display: true, text: title, font: { size: 27 }, padding: { top: 10, bottom: 0 } }
    }, extra);
}

function periodAxis(min, max, values, labels) {
    return valueAxis({
        type: "logarithmic",
        reverse: true,
        min: min,
        max: max,
        afterBuildTicks: s => { s.ticks = values.map(v => ({ value: v })); },
        ticks: {
            font: { size: 26 },
            padding: 7,
            labelOffset: 2,
            autoSkip: false,
            callback: (v, i) => labels ? labels[i] : String(v),
            color: c => (labels && c.index === 0) ? "#666" : "#000"
        }
    }, "Period  (kyr)", 0);
}

function lineChart(id, data, color, width, yAxis, pad, frameOpts, smooth) {
    new Chart(document.getElementById(id), {
        type: "scatter",
        data: {
            datasets: [{
                data: data,
                showLine: true,
                borderColor: color,
                borderWidth: width,
                borderJoinStyle: "round",
                pointRadius: 0,
                cubicInterpolationMode: smooth ? "monotone" : "default"
            }]
        },
        options: {
            responsive: false,
            layout: { padding: pad },
            scales: { x: timeAxis(false), y: yAxis },
            plugins: { legend: { display: false }, tooltip: { enabled: false }, frame: frameOpts }
        },
        plugins: [frame]
    });
}

lineChart("panelA", toPoints(eccTime, eccValue), "#00dc00", 3.2, valueAxis({
    type: "linear", min: -0.0028, max: 0.0698,
    afterBuildTicks: s => { s.ticks = eccTicks.map(v => ({ value: v })); },
    ticks: { font: { size: 26 }, padding: 7, labelOffset: 2, callback: v => String(v) }
}, "Eccentricity", -7), { top: 10, right: 13, bottom: 1 }, { bottom: false, letter: "a", letterY: 36 }, true);

lineChart("panelB", toPoints(iceTime, iceValue), "#2244ff", 3.6, valueAxis({
    type: "linear", min: -0.193, max: 1.818,
    afterBuildTicks: s => { s.ticks = iceTicks.map(v => ({ value: v })); },
    ticks: { font: { size: 26 }, padding: 7, labelOffset: 2, callback: v => String(v) }
}, "Ice  volume", -6), { top: 0, right: 13, bottom: 5 }, { top: false, letter: "b", letterY: 24 }, false);

new Chart(document.getElementById("panelC"), {
    type: "scatter",
    data: { datasets: shapeDatasets(cOuter.concat(cInner)).concat(seamDatasets(cSeams)) },
    options: {
        responsive: false,
        layout: { padding: { top: 12, right: 13, bottom: 7 } },
        scales: { x: timeAxis(false), y: periodAxis(30.7, 243.6, cPeriodTicks, cPeriodLabels) },
        plugins: { legend: { display: false }, tooltip: { enabled: false }, frame: { letter: "c", letterY: 36 } }
    },
    plugins: [shapeFill, frame]
});

new Chart(document.getElementById("panelD"), {
    type: "scatter",
    data: { datasets: shapeDatasets(dBase.concat(dYellow, dTopHoles, dBand, dRings)).concat(seamDatasets(dSeams)) },
    options: {
        responsive: false,
        layout: { padding: { top: 11, right: 13 } },
        scales: { x: timeAxis(true), y: periodAxis(31.2, 248, dPeriodTicks, null) },
        plugins: { legend: { display: false }, tooltip: { enabled: false }, frame: { letter: "d", letterY: 36 } }
    },
    plugins: [shapeFill, frame]
});

// colour bar: one closed polygon per class, end classes taper to a point
function barPolygon(i) {
    const a = barEdges[i], b = barEdges[i + 1];
    if (i === 0) return [{ x: a, y: 0.5 }, { x: b, y: 1 }, { x: b, y: 0 }];
    if (i === barEdges.length - 2) return [{ x: a, y: 0 }, { x: a, y: 1 }, { x: b, y: 0.5 }];
    return [{ x: a, y: 0 }, { x: a, y: 1 }, { x: b, y: 1 }, { x: b, y: 0 }];
}

const barFill = {
    id: "barFill",
    afterDatasetsDraw(chart) {
        const ctx = chart.ctx;
        ctx.save();
        ctx.strokeStyle = "#000";
        ctx.lineJoin = "round";
        chart.data.datasets.forEach((ds, i) => {
            const pts = chart.getDatasetMeta(i).data;
            ctx.beginPath();
            pts.forEach((p, k) => k ? ctx.lineTo(p.x, p.y) : ctx.moveTo(p.x, p.y));
            ctx.closePath();
            ctx.fillStyle = ds.backgroundColor;
            ctx.fill();
            ctx.lineWidth = (i === 0 || i === barEdges.length - 2) ? 2 : 3;
            ctx.stroke();
        });
        ctx.restore();
    }
};

new Chart(document.getElementById("colorBar"), {
    type: "scatter",
    data: {
        datasets: levelColors.map((c, i) => ({
            data: barPolygon(i),
            backgroundColor: c,
            pointRadius: 0,
            showLine: false
        }))
    },
    options: {
        responsive: false,
        layout: { padding: { left: 211, right: 101, top: 15 } },
        scales: {
            x: {
                type: "logarithmic",
                min: 0.25,
                max: 16,
                afterBuildTicks: s => { s.ticks = barTicks.map(v => ({ value: v })); },
                afterFit: s => { noLabelPadding(s); s.height = 32; },
                grid: { display: false },
                border: { display: false },
                ticks: { font: { size: 27 }, padding: -5, maxRotation: 0, autoSkip: false, callback: v => String(v) }
            },
            y: { type: "linear", display: false, min: 0, max: 1 }
        },
        plugins: { legend: { display: false }, tooltip: { enabled: false } }
    },
    plugins: [barFill]
});
</script>
</body>
</html>
